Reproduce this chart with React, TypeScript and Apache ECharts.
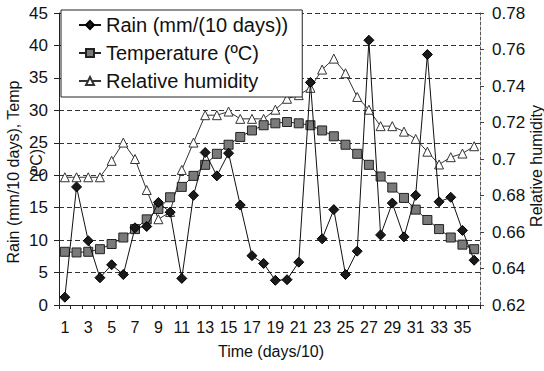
import React, { useEffect, useRef } from "react";
import * as echarts from "echarts";

const categories = ["1","2","3","4","5","6","7","8","9","10","11","12","13","14","15","16","17","18","19","20","21","22","23","24","25","26","27","28","29","30","31","32","33","34","35","36"];

const rain = [1.2, 18.2, 9.9, 4.2, 6.2, 4.7, 11.9, 12.1, 15.8, 14.3, 4.1, 16.9, 23.5, 19.9, 23.4, 15.4, 7.6, 6.4, 3.8, 3.9, 6.6, 34.3, 10.2, 14.7, 4.7, 8.3, 40.8, 10.8, 15.7, 10.5, 16.9, 38.6, 15.9, 16.6, 11.5, 6.9];

const temperature = [8.2, 8.1, 8.2, 8.6, 9.4, 10.4, 11.7, 13.2, 14.8, 16.6, 18.2, 19.9, 21.6, 23.3, 24.7, 25.9, 26.9, 27.7, 28.0, 28.2, 28.0, 27.7, 26.9, 26.0, 24.7, 23.3, 21.6, 19.8, 18.1, 16.5, 14.7, 13.1, 11.7, 10.4, 9.3, 8.6];

const humidity = [0.690, 0.690, 0.690, 0.690, 0.699, 0.709, 0.700, 0.683, 0.667, 0.671, 0.694, 0.709, 0.724, 0.724, 0.726, 0.722, 0.722, 0.722, 0.727, 0.733, 0.735, 0.739, 0.749, 0.755, 0.747, 0.734, 0.727, 0.718, 0.718, 0.715, 0.711, 0.704, 0.697, 0.701, 0.703, 0.707];

const seriesNames = ["Rain (mm/(10 days))", "Temperature (ºC)", "Relative humidity"];

const FONT = "'Liberation Sans', Arial, sans-serif";

export default function App() {
  const ref = useRef<HTMLDivElement>(null);
  useEffect(() => {
    if (!ref.current) return;
    const chart = echarts.init(ref.current, null, { renderer: "svg" });
    chart.setOption({
      animation: false,
      backgroundColor: "#fff",
      textStyle: { fontFamily: FONT },
      grid: { left: 59, right: 64, top: 13, bottom: 66, containLabel: false },
      legend: {
        orient: "vertical",
        left: 61,
        top: 10,
        padding: [5, 14, 6, 17],
        itemGap: 8,
        itemWidth: 22,
        itemHeight: 10,
        borderColor: "#222",
        borderWidth: 1,
        backgroundColor: "#fff",
        data: seriesNames,
        textStyle: { fontSize: 20, fontFamily: FONT, color: "#111" },
      },
      xAxis: {
        type: "category",
        data: categories,
        boundaryGap: true,
        axisLine: { lineStyle: { color: "#222", width: 1 } },
        axisTick: { show: true, interval: 0, length: 4, lineStyle: { color: "#222" } },
        axisLabel: { interval: 1, fontSize: 16, color: "#111", margin: 14, fontFamily: FONT },
        splitLine: { show: false },
      },
      yAxis: [
        {
          type: "value",
          min: 0,
          max: 45,
          interval: 5,
          axisLine: { show: true, lineStyle: { color: "#222", width: 1 } },
          axisTick: { show: true, length: 5, lineStyle: { color: "#222" } },
          axisLabel: { fontSize: 17, color: "#111", margin: 11, fontFamily: FONT },
          splitLine: { show: true, lineStyle: { color: "#333", width: 1, type: [5, 3] } },
        },
        {
          type: "value",
          min: 0.62,
          max: 0.78,
          interval: 0.02,
          position: "right",
          axisLine: { show: true, lineStyle: { color: "#555", width: 1, type: [3, 2] } },
          axisTick: { show: true, length: 4, lineStyle: { color: "#444" } },
          axisLabel: { fontSize: 17, color: "#111", margin: 12, fontFamily: FONT },
          splitLine: { show: false },
        },
      ],
      graphic: [
        {
          type: "text",
          x: 13,
          y: 172,
          rotation: Math.PI / 2,
          style: { text: "Rain (mm/10 days), Temp", fontSize: 16, fontFamily: FONT, fill: "#111", textAlign: "center", textVerticalAlign: "middle" },
        },
        {
          type: "text",
          x: 36,
          y: 163,
          rotation: Math.PI / 2,
          style: { text: "(ºC)", fontSize: 16, fontFamily: FONT, fill: "#111", textAlign: "center", textVerticalAlign: "middle" },
        },
        {
          type: "text",
          x: 536,
          y: 166,
          rotation: Math.PI / 2,
          style: { text: "Relative humidity", fontSize: 16, fontFamily: FONT, fill: "#111", textAlign: "center", textVerticalAlign: "middle" },
        },
        {
          type: "text",
          x: 271,
          y: 351,
          style: { text: "Time (days/10)", fontSize: 16, fontFamily: FONT, fill: "#111", textAlign: "center", textVerticalAlign: "middle" },
        },
      ],
      series: [
        {
          name: seriesNames[0],
          type: "line",
          data: rain,
          yAxisIndex: 0,
          z: 4,
          showAllSymbol: true,
          symbol: "diamond",
          symbolSize: 10,
          itemStyle: { color: "#1a1a1a", borderColor: "#000", borderWidth: 1 },
          lineStyle: { color: "#111", width: 1 },
        },
        {
          name: seriesNames[1],
          type: "line",
          data: temperature,
          yAxisIndex: 0,
          z: 3,
          showAllSymbol: true,
          symbol: "rect",
          symbolSize: 9,
          itemStyle: { color: "#7a7a7a", borderColor: "#222", borderWidth: 1 },
          lineStyle: { color: "#222", width: 1 },
        },
        {
          name: seriesNames[2],
          type: "line",
          data: humidity,
          yAxisIndex: 1,
          z: 2,
          showAllSymbol: true,
          symbol: "triangle",
          symbolSize: 9,
          itemStyle: { color: "#fff", borderColor: "#333", borderWidth: 1 },
          lineStyle: { color: "#333", width: 1 },
        },
      ],
    });
    return () => chart.dispose();
  }, []);
  return <div ref={ref} style={{ position: "absolute", left: 0, top: 0, width: 544, height: 371 }} />;
}
